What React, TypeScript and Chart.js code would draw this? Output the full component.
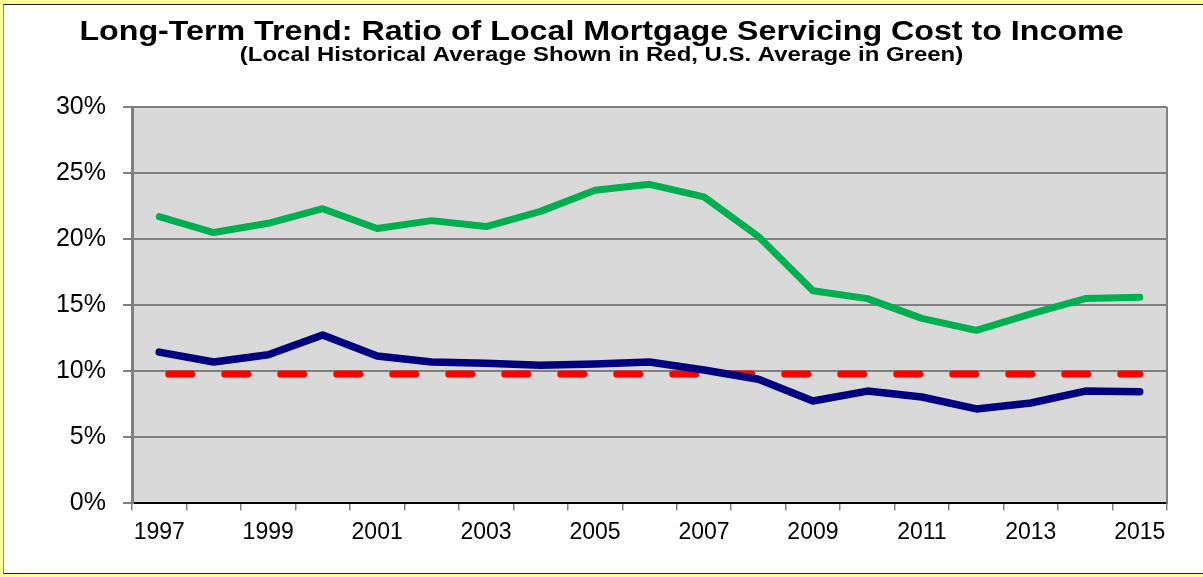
import React, { useEffect, useRef } from "react";
import { Chart, registerables } from "chart.js";

Chart.register(...registerables);

const years = [
  "1997", "1998", "1999", "2000", "2001", "2002", "2003", "2004", "2005", "2006",
  "2007", "2008", "2009", "2010", "2011", "2012", "2013", "2014", "2015",
];

// U.S. average (green)
const usAverage = [
  21.7, 20.5, 21.2, 22.3, 20.8, 21.4, 20.95, 22.1, 23.7, 24.15,
  23.2, 20.2, 16.1, 15.5, 14.0, 13.1, 14.35, 15.5, 15.6,
];

// Local ratio (navy)
const localRatio = [
  11.45, 10.7, 11.25, 12.75, 11.15, 10.7, 10.6, 10.45, 10.55, 10.7,
  10.1, 9.4, 7.75, 8.5, 8.05, 7.15, 7.6, 8.5, 8.45,
];

// Local historical average (red dashed)
const localHistoricalAverage = [
  9.8, 9.8, 9.8, 9.8, 9.8, 9.8, 9.8, 9.8, 9.8, 9.8,
  9.8, 9.8, 9.8, 9.8, 9.8, 9.8, 9.8, 9.8, 9.8,
];

const yMin = 0;
const yMax = 30;
const yStep = 5;

const titleText = "Long-Term Trend: Ratio of Local Mortgage Servicing Cost to Income";
const subtitleText = "(Local Historical Average Shown in Red, U.S. Average in Green)";

const FONT = "Arial, 'Liberation Sans', Helvetica, sans-serif";

const plotArea = {
  id: "plotArea",
  beforeDraw(chart: any) {
    const { ctx, chartArea } = chart;
    const { left, top, right, bottom } = chartArea;
    ctx.save();
    ctx.fillStyle = "#D9D9D9";
    ctx.fillRect(left, top, right - left, bottom - top);
    ctx.restore();
  },
  beforeDatasetsDraw(chart: any) {
    const { ctx, chartArea } = chart;
    const { top, right, bottom } = chartArea;
    ctx.save();
    ctx.strokeStyle = "#808080";
    ctx.lineWidth = 2;
    ctx.beginPath();
    ctx.moveTo(right, top);
    ctx.lineTo(right, bottom);
    ctx.stroke();
    ctx.restore();
  },
};

// Title drawn with a wide (horizontally stretched) face, as in the reference
const wideTitles = {
  id: "wideTitles",
  afterDraw(chart: any) {
    const { ctx, width } = chart;
    const cx = width / 2;
    const draw = (text: string, size: number, baseline: number, sx: number) => {
      ctx.save();
      ctx.font = `bold ${size}px ${FONT}`;
      ctx.fillStyle = "#000";
      ctx.textAlign = "center";
      ctx.textBaseline = "alphabetic";
      ctx.translate(cx, baseline);
      ctx.scale(sx, 1);
      ctx.fillText(text, 0, 0);
      ctx.restore();
    };
    draw(titleText, 28, 40, 1.15);
    draw(subtitleText, 21, 61, 1.14);
  },
};

export default function App() {
  const canvasRef = useRef<HTMLCanvasElement | null>(null);

  useEffect(() => {
    if (!canvasRef.current) return;
    const chart = new Chart(canvasRef.current, {
      type: "line",
      data: {
        labels: years,
        datasets: [
          {
            label: "Local Historical Average",
            data: localHistoricalAverage,
            borderColor: "#FF0000",
            borderWidth: 7,
            borderDash: [23, 33],
            borderDashOffset: 46.5,
            borderCapStyle: "round",
            pointRadius: 0,
            tension: 0,
            order: 3,
          },
          {
            label: "U.S. Average",
            data: usAverage,
            borderColor: "#00B050",
            borderWidth: 7,
            borderCapStyle: "round",
            borderJoinStyle: "round",
            pointRadius: 0,
            tension: 0,
            order: 2,
          },
          {
            label: "Local",
            data: localRatio,
            borderColor: "#000080",
            borderWidth: 7.5,
            borderCapStyle: "round",
            borderJoinStyle: "round",
            pointRadius: 0,
            tension: 0,
            order: 1,
          },
        ],
      },
      options: {
        animation: false,
        responsive: true,
        maintainAspectRatio: false,
        layout: { padding: { left: 0, right: 36, top: 107, bottom: 23 } },
        plugins: {
          legend: { display: false },
          tooltip: { enabled: false },
          title: { display: false },
        },
        scales: {
          x: {
            type: "category",
            offset: true,
            grid: {
              offset: true,
              drawOnChartArea: false,
              drawTicks: true,
              tickLength: 7,
              color: "#808080",
              lineWidth: 1.5,
            },
            border: { display: true, color: "#000", width: 2 },
            ticks: {
              autoSkip: false,
              maxRotation: 0,
              minRotation: 0,
              padding: 8,
              color: "#000",
              font: { family: FONT, size: 23 },
              callback: (_v: any, i: number) => (i % 2 === 0 ? years[i] : ""),
            },
          },
          y: {
            min: yMin,
            max: yMax,
            afterFit: (scale: any) => {
              scale.width = 132;
            },
            grid: {
              color: "#808080",
              lineWidth: 2,
              drawTicks: true,
              tickLength: 9,
            },
            border: { display: true, color: "#808080", width: 3 },
            ticks: {
              stepSize: yStep,
              padding: 17,
              color: "#000",
              font: { family: FONT, size: 25 },
              callback: (v: any) => `${v}%`,
            },
          },
        },
      },
      plugins: [plotArea, wideTitles],
    });
    return () => chart.destroy();
  }, []);

  return (
    <div
      style={{
        position: "fixed",
        left: 0,
        top: 0,
        width: 1203,
        height: 577,
        background: "#FFFF99",
        overflow: "hidden",
      }}
    >
      <div
        style={{
          position: "absolute",
          left: 3,
          top: 4,
          width: 1210,
          height: 568,
          background: "#FFFFFF",
          borderTop: "1px solid #222",
          borderBottom: "1px solid #222",
          borderLeft: "1px solid #888",
        }}
      />
      <div style={{ position: "absolute", left: 0, top: 0, width: 1203, height: 577 }}>
        <canvas ref={canvasRef} />
      </div>
    </div>
  );
}
